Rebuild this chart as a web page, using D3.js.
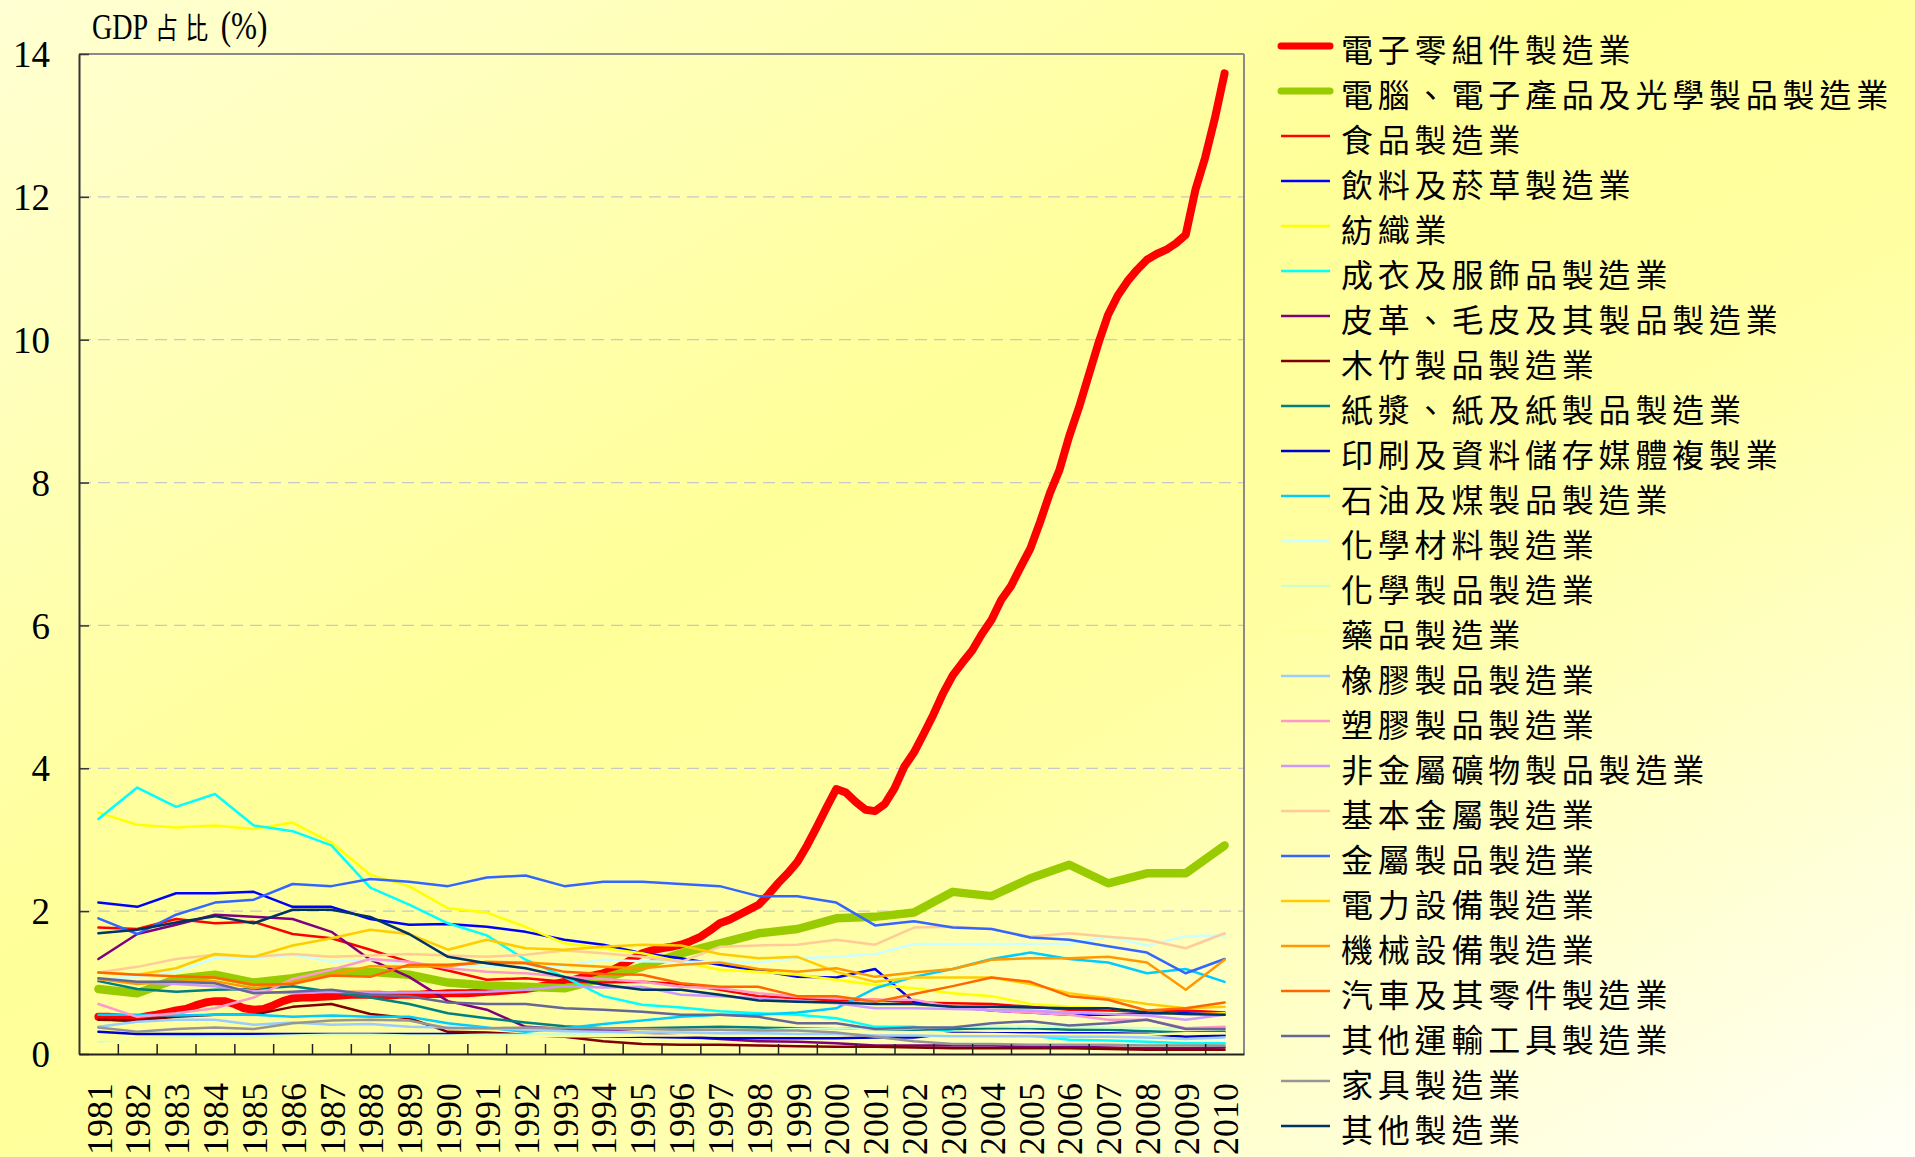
<!DOCTYPE html>
<html><head><meta charset="utf-8">
<script src="https://cdn.jsdelivr.net/npm/d3@7/dist/d3.min.js"></script>
<style>html,body{margin:0;padding:0;overflow:hidden;background:#ffffcc}</style>
</head><body>
<svg id="chart" width="1915" height="1157"></svg>
<script>
const years = [1981,1982,1983,1984,1985,1986,1987,1988,1989,1990,1991,1992,1993,1994,1995,1996,1997,1998,1999,2000,2001,2002,2003,2004,2005,2006,2007,2008,2009,2010];
const yTicks = [0,2,4,6,8,10,12,14];
const yTitleParts = ["GDP","占比","(%)"];

// 電子零組件製造業 — quarterly values, 1981Q1 .. 2010Q1
const electronicsComponentsQ = [
 0.52,0.52,0.51,0.50, 0.50,0.53,0.55,0.58, 0.61,0.63,0.68,0.72, 0.74,0.74,0.70,0.64,
 0.62,0.63,0.68,0.74, 0.78,0.79,0.79,0.80, 0.81,0.82,0.83,0.83, 0.83,0.83,0.82,0.83,
 0.83,0.83,0.84,0.84, 0.85,0.85,0.85,0.86, 0.87,0.88,0.89,0.90, 0.91,0.93,0.96,0.98,
 1.01,1.04,1.08,1.10, 1.13,1.18,1.25,1.33, 1.41,1.45,1.48,1.50, 1.53,1.58,1.64,1.73,
 1.83,1.88,1.95,2.02, 2.09,2.23,2.39,2.53, 2.69,2.92,3.18,3.45, 3.71,3.66,3.53,3.42,
 3.40,3.50,3.72,4.02, 4.22,4.48,4.75,5.05, 5.30,5.48,5.65,5.88, 6.08,6.36,6.55,6.82,
 7.08,7.45,7.85,8.18, 8.65,9.05,9.50,9.95, 10.35,10.62,10.82,10.98, 11.12,11.20,11.26,11.35,
 11.47,12.10,12.55,13.10, 13.73];

const computers   = [0.91,0.85,1.05,1.11,1.00,1.06,1.15,1.15,1.11,1.00,0.96,0.94,0.92,1.06,1.22,1.41,1.55,1.69,1.75,1.90,1.92,1.98,2.27,2.21,2.46,2.65,2.39,2.53,2.53,2.92];
const food        = [1.77,1.75,1.89,1.83,1.85,1.68,1.62,1.46,1.29,1.17,1.04,1.06,1.01,1.00,1.01,0.98,0.90,0.81,0.78,0.75,0.76,0.72,0.71,0.70,0.66,0.62,0.61,0.59,0.61,0.58];
const beverage    = [2.12,2.06,2.25,2.25,2.27,2.06,2.06,1.89,1.81,1.82,1.78,1.71,1.60,1.53,1.41,1.34,1.25,1.17,1.08,1.07,1.19,0.73,0.66,0.61,0.58,0.55,0.55,0.57,0.57,0.55];
const textile     = [3.38,3.21,3.17,3.20,3.15,3.24,2.96,2.51,2.35,2.04,1.98,1.78,1.55,1.48,1.41,1.29,1.18,1.15,1.11,1.04,0.97,0.92,0.85,0.81,0.70,0.66,0.64,0.59,0.55,0.57];
const apparel     = [3.29,3.73,3.46,3.64,3.20,3.12,2.92,2.33,2.09,1.83,1.66,1.32,1.08,0.81,0.69,0.65,0.60,0.57,0.55,0.50,0.38,0.38,0.31,0.29,0.26,0.20,0.19,0.17,0.15,0.15];
const leather     = [1.33,1.68,1.81,1.95,1.92,1.89,1.71,1.32,1.08,0.74,0.62,0.38,0.35,0.33,0.30,0.25,0.21,0.18,0.17,0.15,0.12,0.12,0.12,0.12,0.11,0.10,0.09,0.08,0.08,0.09];
const wood        = [0.48,0.47,0.52,0.55,0.55,0.66,0.70,0.56,0.50,0.31,0.30,0.27,0.24,0.18,0.14,0.13,0.13,0.12,0.11,0.10,0.10,0.09,0.08,0.08,0.08,0.08,0.07,0.06,0.06,0.06];
const paper       = [1.02,0.91,0.87,0.90,0.91,0.95,0.87,0.79,0.70,0.57,0.50,0.44,0.39,0.36,0.36,0.37,0.38,0.37,0.36,0.36,0.35,0.34,0.35,0.36,0.36,0.34,0.34,0.32,0.30,0.31];
const printing    = [0.31,0.28,0.28,0.28,0.28,0.28,0.28,0.28,0.28,0.28,0.27,0.26,0.25,0.24,0.24,0.23,0.22,0.22,0.22,0.22,0.23,0.23,0.29,0.29,0.29,0.29,0.29,0.28,0.24,0.26];
const petroleum   = [0.55,0.55,0.54,0.55,0.55,0.52,0.54,0.52,0.52,0.43,0.37,0.31,0.36,0.42,0.47,0.52,0.55,0.55,0.58,0.64,0.92,1.08,1.19,1.33,1.42,1.33,1.28,1.13,1.19,1.01];
const chemMaterial= [1.05,1.08,1.15,1.34,1.34,1.39,1.29,1.32,1.27,1.24,1.22,1.22,1.24,1.32,1.30,1.29,1.29,1.28,1.34,1.36,1.40,1.54,1.54,1.54,1.54,1.54,1.64,1.52,1.65,1.66];
const chemProduct = [0.17,0.22,0.23,0.24,0.25,0.26,0.27,0.27,0.26,0.26,0.27,0.27,0.28,0.29,0.30,0.32,0.33,0.33,0.35,0.36,0.35,0.36,0.38,0.39,0.38,0.38,0.37,0.36,0.36,0.38];
const pharma      = [0.20,0.21,0.21,0.22,0.22,0.23,0.23,0.23,0.23,0.24,0.24,0.25,0.25,0.25,0.26,0.26,0.27,0.27,0.27,0.27,0.27,0.28,0.28,0.28,0.27,0.27,0.27,0.27,0.29,0.29];
const rubber      = [0.38,0.45,0.48,0.48,0.41,0.44,0.41,0.42,0.38,0.37,0.36,0.34,0.32,0.31,0.30,0.30,0.29,0.29,0.28,0.28,0.26,0.26,0.25,0.25,0.25,0.24,0.24,0.23,0.21,0.23];
const plastic     = [0.70,0.52,0.57,0.64,0.79,1.05,1.18,1.33,1.29,1.20,1.15,1.13,1.08,1.05,1.01,0.94,0.92,0.85,0.80,0.78,0.76,0.76,0.66,0.61,0.58,0.55,0.48,0.48,0.36,0.38];
const nonMetal    = [1.05,1.00,0.98,0.95,0.88,0.85,0.87,0.86,0.86,0.86,0.87,0.90,0.95,0.93,0.94,0.83,0.81,0.78,0.74,0.71,0.64,0.64,0.63,0.62,0.61,0.58,0.56,0.54,0.48,0.55];
const basicMetal  = [1.14,1.22,1.33,1.39,1.36,1.40,1.36,1.38,1.40,1.38,1.36,1.39,1.45,1.41,1.36,1.29,1.50,1.52,1.53,1.60,1.53,1.77,1.78,1.75,1.64,1.69,1.64,1.60,1.48,1.69];
const metalProduct= [1.90,1.68,1.95,2.12,2.16,2.38,2.35,2.45,2.41,2.35,2.47,2.50,2.35,2.41,2.41,2.38,2.35,2.21,2.21,2.12,1.80,1.86,1.77,1.75,1.63,1.60,1.51,1.42,1.13,1.33];
const electrical  = [1.14,1.11,1.20,1.40,1.36,1.52,1.62,1.74,1.68,1.46,1.60,1.48,1.46,1.50,1.53,1.52,1.40,1.34,1.36,1.15,1.01,1.07,1.07,1.07,0.98,0.85,0.78,0.70,0.64,0.66];
const machinery   = [1.05,0.98,1.02,1.02,0.92,1.00,1.11,1.23,1.22,1.23,1.29,1.28,1.25,1.22,1.20,1.25,1.28,1.19,1.15,1.20,1.08,1.14,1.19,1.32,1.34,1.34,1.36,1.28,0.90,1.32];
const automobile  = [1.14,1.11,1.09,1.07,0.97,0.98,1.10,1.08,1.25,1.25,1.28,1.27,1.15,1.12,1.11,0.99,0.94,0.94,0.81,0.81,0.73,0.84,0.95,1.07,1.01,0.81,0.76,0.61,0.64,0.72];
const otherTransport = [1.06,1.01,1.01,0.99,0.85,0.87,0.90,0.83,0.81,0.72,0.70,0.70,0.64,0.62,0.59,0.55,0.55,0.52,0.43,0.43,0.35,0.37,0.37,0.43,0.46,0.40,0.43,0.48,0.35,0.35];
const furniture   = [0.37,0.31,0.35,0.37,0.35,0.43,0.47,0.48,0.47,0.36,0.36,0.37,0.36,0.36,0.35,0.34,0.34,0.33,0.33,0.30,0.24,0.18,0.14,0.14,0.13,0.13,0.13,0.12,0.12,0.12];
const otherMfg    = [1.69,1.74,1.84,1.93,1.83,2.02,2.02,1.92,1.68,1.36,1.27,1.20,1.08,0.97,0.90,0.90,0.83,0.75,0.73,0.72,0.70,0.70,0.66,0.66,0.65,0.64,0.64,0.58,0.56,0.55];

const seriesNames = ["電子零組件製造業","電腦、電子產品及光學製品製造業","食品製造業","飲料及菸草製造業","紡織業","成衣及服飾品製造業","皮革、毛皮及其製品製造業","木竹製品製造業","紙漿、紙及紙製品製造業","印刷及資料儲存媒體複製業","石油及煤製品製造業","化學材料製造業","化學製品製造業","藥品製造業","橡膠製品製造業","塑膠製品製造業","非金屬礦物製品製造業","基本金屬製造業","金屬製品製造業","電力設備製造業","機械設備製造業","汽車及其零件製造業","其他運輸工具製造業","家具製造業","其他製造業"];
const annualSeries = [null, computers, food, beverage, textile, apparel, leather, wood, paper, printing, petroleum, chemMaterial, chemProduct, pharma, rubber, plastic, nonMetal, basicMetal, metalProduct, electrical, machinery, automobile, otherTransport, furniture, otherMfg];

// styles
const colors = ["#ff0000","#99cc00","#ff0000","#0000ff","#ffff00","#00ffff","#800080","#800000","#008080","#0000cc","#00ccff","#ccffff","#ccffcc","#ffff99","#99ccff","#ff99cc","#cc99ff","#ffcc99","#3366ff","#ffcc00","#ff9900","#ff6600","#666699","#969696","#003366"];
const widths = seriesNames.map((d,i)=> i===0 ? 8 : (i===1 ? 8.5 : 2.5));

const svg = d3.select("#chart");
const W = 1915, H = 1157;
const defs = svg.append("defs");
const grad = defs.append("linearGradient").attr("id","bg").attr("x1",0).attr("y1",0).attr("x2",1).attr("y2",1);
grad.append("stop").attr("offset",0).attr("stop-color","#ffffd4");
grad.append("stop").attr("offset",0.42).attr("stop-color","#ffff99");
grad.append("stop").attr("offset",0.6).attr("stop-color","#ffffa2");
grad.append("stop").attr("offset",1).attr("stop-color","#fffff8");
svg.append("rect").attr("width",W).attr("height",H).attr("fill","url(#bg)");

const L = 79, R = 1244, T = 54, B = 1054;
const x = d3.scaleLinear().domain([1980.5, 2010.5]).range([L, R]);
const y = d3.scaleLinear().domain([0, 14]).range([B, T]);

// gridlines
svg.append("g").selectAll("line").data(yTicks.filter(v=>v>0 && v<14)).join("line")
  .attr("x1",L).attr("x2",R).attr("y1",d=>y(d)).attr("y2",d=>y(d))
  .attr("stroke","#c8c8c8").attr("stroke-width",1.2).attr("stroke-dasharray","12 7");

// frame top/right
svg.append("line").attr("x1",L).attr("x2",R).attr("y1",T).attr("y2",T).attr("stroke","#8a8a8a").attr("stroke-width",2);
svg.append("line").attr("x1",R).attr("x2",R).attr("y1",T).attr("y2",B).attr("stroke","#8a8a8a").attr("stroke-width",2);

// series
const line = d3.line().x(d=>x(d[0])).y(d=>y(d[1])).curve(d3.curveLinear);
const seriesData = seriesNames.map((name,i)=>{
  if (i===0) return electronicsComponentsQ.map((v,k)=>[years[0] + k/4, v]);
  return annualSeries[i].map((v,k)=>[years[k], v]);
});
const gLines = svg.append("g");
seriesData.forEach((pts,i)=>{
  gLines.append("path").attr("d", line(pts)).attr("fill","none")
    .attr("stroke", colors[i]).attr("stroke-width", widths[i])
    .attr("stroke-linejoin","round").attr("stroke-linecap","round");
});

// y axis
const yAxis = d3.axisLeft(y).tickValues(yTicks).tickSize(-10).tickSizeOuter(0).tickPadding(29).tickFormat(d3.format("d"));
const gy = svg.append("g").attr("transform",`translate(${L},0)`).call(yAxis);
gy.select(".domain").attr("stroke","#333").attr("stroke-width",2);
gy.selectAll(".tick line").attr("stroke","#333").attr("stroke-width",1.5);
gy.selectAll("text").attr("font-family","'Liberation Serif', 'Times New Roman', serif").attr("font-size",37).attr("fill","#000").attr("dy","0.34em");

// x axis: ticks between categories
const boundaries = years.slice(0,-1).map(d=>d+0.5);
const xAxisTicks = d3.axisBottom(x).tickValues(boundaries).tickSize(-10).tickSizeOuter(0).tickFormat("");
const gx = svg.append("g").attr("transform",`translate(0,${B})`).call(xAxisTicks);
gx.select(".domain").attr("stroke","#222").attr("stroke-width",2);
gx.selectAll(".tick line").attr("stroke","#222").attr("stroke-width",1.5);

const xAxisLabels = d3.axisBottom(x).tickValues(years).tickSize(0).tickFormat(d3.format("d"));
const gxl = svg.append("g").attr("transform",`translate(0,${B})`).call(xAxisLabels);
gxl.select(".domain").remove();
gxl.selectAll("text").attr("transform","rotate(-90)").attr("x",-29).attr("y",0).attr("dy","0.35em")
  .attr("text-anchor","end").attr("font-family","'Liberation Serif', 'Times New Roman', serif").attr("font-size",36).attr("fill","#000");

// title (single text, horizontally condensed)
const title = svg.append("text").attr("transform","translate(92,39) scale(0.78,1)")
  .attr("font-family","'Liberation Serif', serif").attr("font-size",36).attr("fill","#000");
title.append("tspan").text(yTitleParts[0]);
title.append("tspan").attr("dx",9).attr("font-family","'Noto Sans CJK TC', sans-serif").attr("font-size",29)
  .attr("letter-spacing",10).text(yTitleParts[1]);
title.append("tspan").attr("dx",6).attr("font-size",40).text(yTitleParts[2]);

// legend
const lg = svg.append("g");
seriesNames.forEach((name,i)=>{
  const ly = 46 + i*45;
  const thick = i<2;
  lg.append("line").attr("x1", 1281).attr("x2", 1330).attr("y1",ly).attr("y2",ly)
    .attr("stroke",colors[i]).attr("stroke-width", thick?7:2.6).attr("stroke-linecap", thick?"round":"butt");
  lg.append("text").attr("x",1341).attr("y",ly+1.5).attr("dominant-baseline","central")
    .attr("font-family","'Noto Sans CJK TC', sans-serif").attr("font-size",32).attr("letter-spacing",4.8)
    .attr("fill","#000").text(name);
});
</script>
</body></html>
